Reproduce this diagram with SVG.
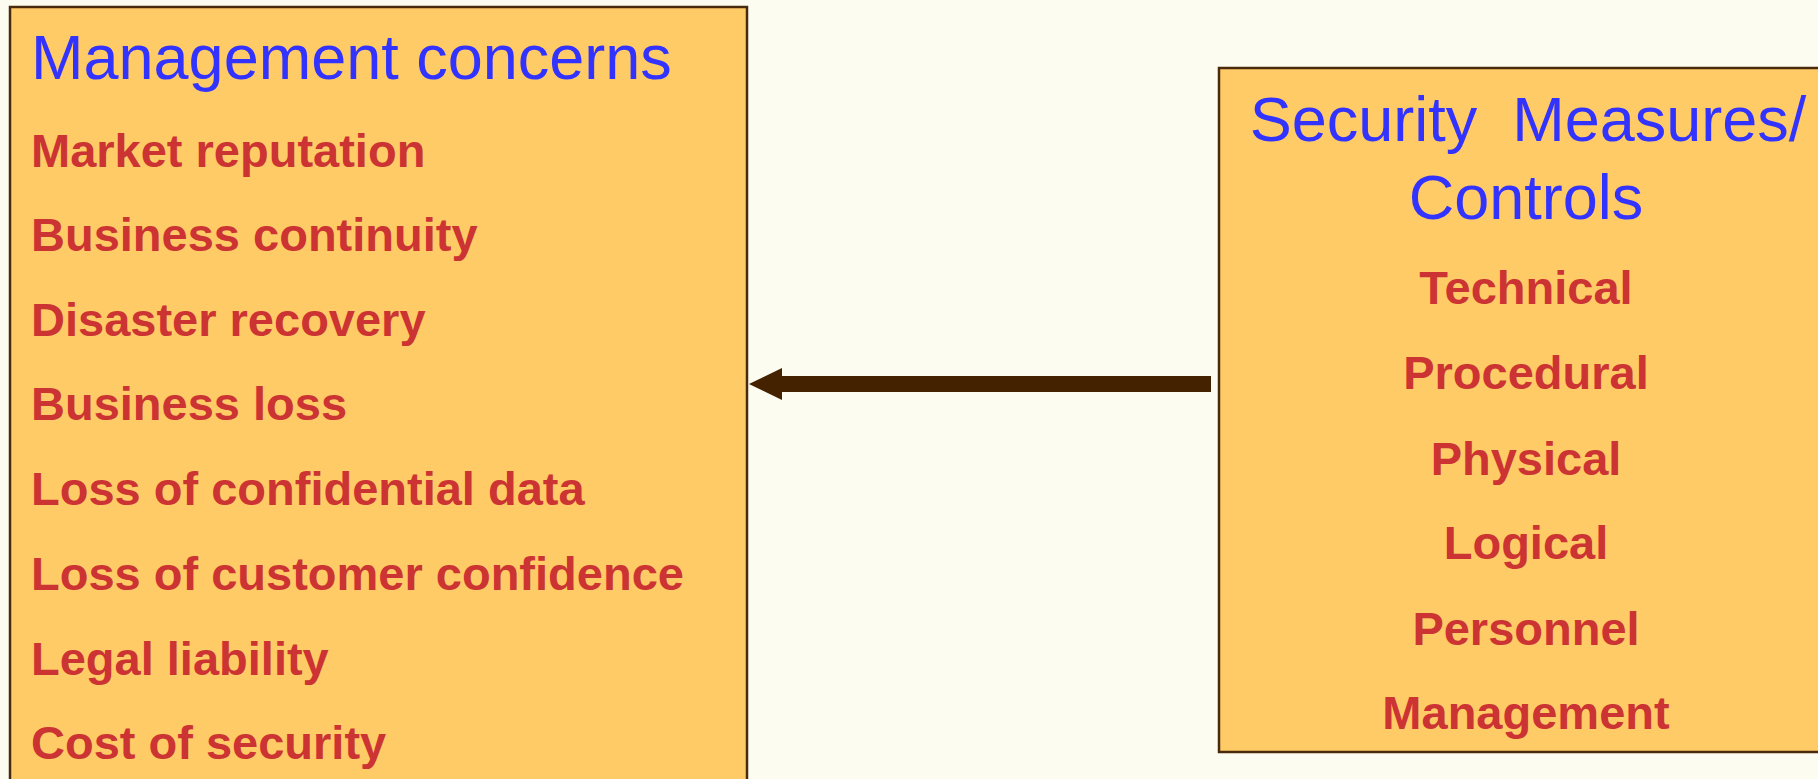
<svg xmlns="http://www.w3.org/2000/svg" width="1818" height="779" viewBox="0 0 1818 779">
  <style>
    .box { fill: #FFCB66; stroke: #4A2A0C; stroke-width: 2.5; }
    .head { font-family: "Liberation Sans", Arial, sans-serif; font-size: 63px; fill: #3333FF; white-space: pre; }
    .item { font-family: "Liberation Sans", Arial, sans-serif; font-size: 47px; font-weight: bold; fill: #CC3333; }
    .mid { text-anchor: middle; }
    .conn { stroke: #442200; stroke-width: 16; fill: none; }
  </style>
  <defs>
    <marker id="arrowHead" markerUnits="userSpaceOnUse" markerWidth="34" markerHeight="32" refX="1" refY="16" orient="auto">
      <path d="M0,0 L33,16 L0,32 Z" fill="#442200"/>
    </marker>
  </defs>

  <!-- page background -->
  <rect x="0" y="0" width="1818" height="779" fill="#FCFCF0"/>

  <!-- management concerns -->
  <g id="management-concerns">
    <rect class="box" x="10" y="7" width="737" height="790"/>
    <text class="head" x="31" y="79">Management concerns</text>
    <text class="item" x="31" y="167">Market reputation</text>
    <text class="item" x="31" y="251">Business continuity</text>
    <text class="item" x="31" y="336">Disaster recovery</text>
    <text class="item" x="31" y="420">Business loss</text>
    <text class="item" x="31" y="505">Loss of confidential data</text>
    <text class="item" x="31" y="590">Loss of customer confidence</text>
    <text class="item" x="31" y="675">Legal liability</text>
    <text class="item" x="31" y="759">Cost of security</text>
  </g>

  <!-- security measures / controls -->
  <g id="security-measures">
    <rect class="box" x="1219" y="68" width="640" height="684"/>
    <text class="head mid" x="1528" y="141">Security  Measures/</text>
    <text class="head mid" x="1526" y="219">Controls</text>
    <text class="item mid" x="1526" y="304">Technical</text>
    <text class="item mid" x="1526" y="389">Procedural</text>
    <text class="item mid" x="1526" y="475">Physical</text>
    <text class="item mid" x="1526" y="559">Logical</text>
    <text class="item mid" x="1526" y="645">Personnel</text>
    <text class="item mid" x="1526" y="729">Management</text>
  </g>

  <!-- connectors -->
  <g id="connectors">
    <line class="conn" x1="1211" y1="384" x2="781" y2="384" marker-end="url(#arrowHead)"/>
  </g>
</svg>
